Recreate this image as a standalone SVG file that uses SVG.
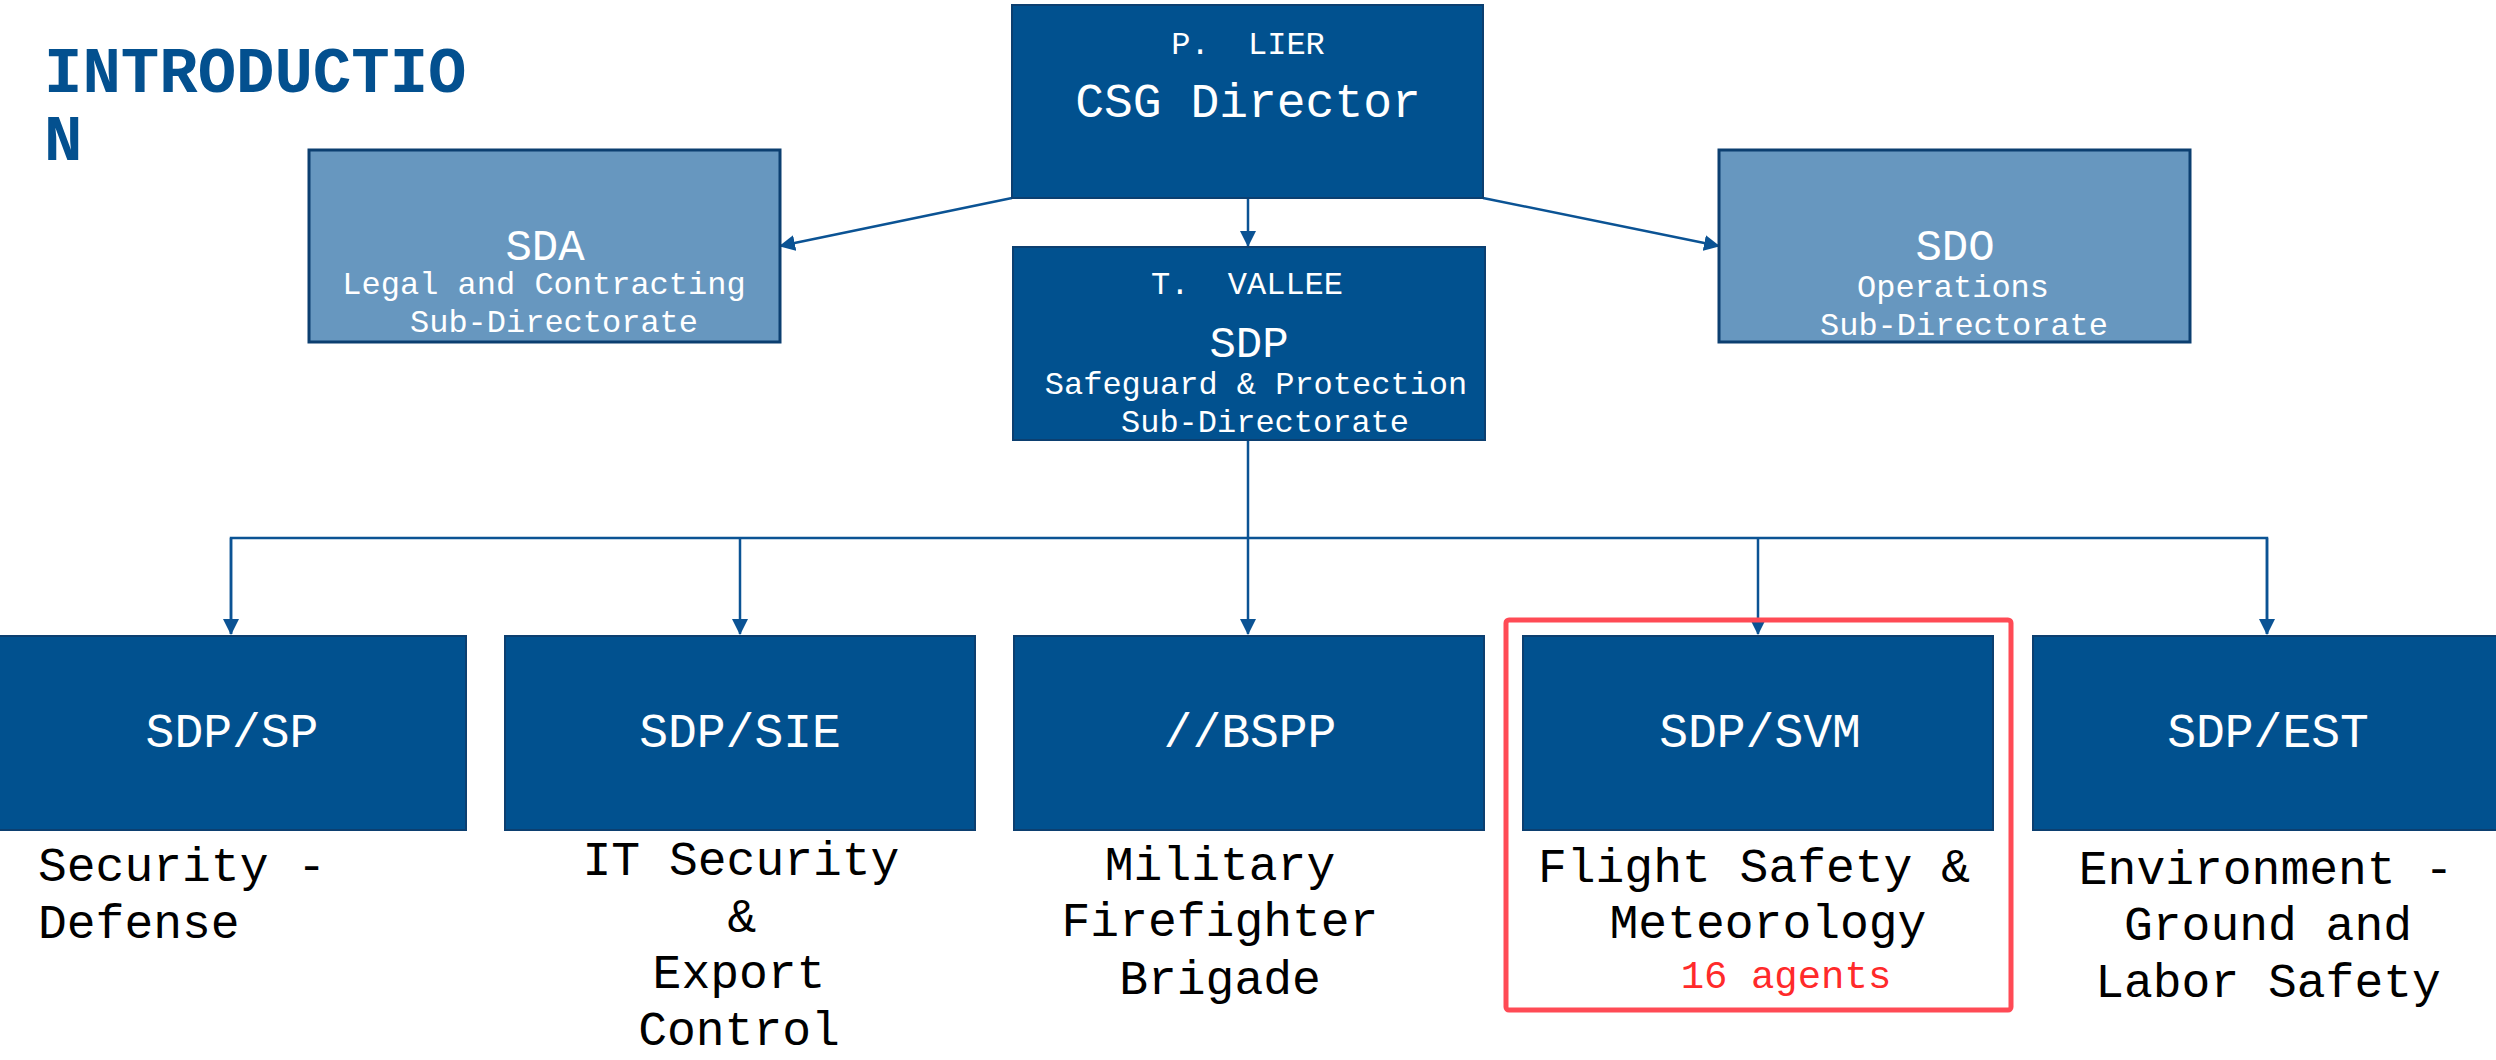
<svg xmlns="http://www.w3.org/2000/svg" width="2496" height="1060" viewBox="0 0 2496 1060">
  <style>
    text { font-family: "Liberation Mono", "Courier New", monospace; white-space: pre; }
    .dark { fill: #01518F; stroke: #0C3F70; stroke-width: 2; }
    .light { fill: #6797BF; stroke: #0C3F70; stroke-width: 3; }
    .w { fill: #FFFFFF; text-anchor: middle; }
    .lbl { fill: #000000; font-size: 48px; }
    .c { text-anchor: middle; }
    .conn { fill: none; stroke: #0B5394; stroke-width: 2.5; }
  </style>
  <defs>
    <marker id="arr" viewBox="0 0 16 16" refX="15" refY="8" markerWidth="16" markerHeight="16" markerUnits="userSpaceOnUse" orient="auto">
      <path d="M0,0 L16,8 L0,16 Z" fill="#0B5394"/>
    </marker>
  </defs>
  <rect width="2496" height="1060" fill="#FFFFFF"/>

  <g id="title">
    <text x="44" y="92" font-size="64" font-weight="bold" fill="#03508F">INTRODUCTIO</text>
    <text x="44" y="160" font-size="64" font-weight="bold" fill="#03508F">N</text>
  </g>

  <g id="connectors">
    <line class="conn" x1="1012" y1="198" x2="780" y2="246" marker-end="url(#arr)"/>
    <line class="conn" x1="1483" y1="198" x2="1719" y2="246" marker-end="url(#arr)"/>
    <line class="conn" x1="1248" y1="198" x2="1248" y2="246" marker-end="url(#arr)"/>
    <line class="conn" x1="1248" y1="440" x2="1248" y2="634" marker-end="url(#arr)"/>
    <polyline class="conn" points="231,634 231,538 2267,538 2267,634" marker-start="none"/>
    <line class="conn" x1="231" y1="538" x2="231" y2="634" marker-end="url(#arr)"/>
    <line class="conn" x1="740" y1="538" x2="740" y2="634" marker-end="url(#arr)"/>
    <line class="conn" x1="1758" y1="538" x2="1758" y2="634" marker-end="url(#arr)"/>
    <line class="conn" x1="2267" y1="538" x2="2267" y2="634" marker-end="url(#arr)"/>
  </g>

  <g id="csg">
    <rect class="dark" x="1012" y="5" width="471" height="193"/>
    <text class="w" x="1248" y="54" font-size="32">P.  LIER</text>
    <text class="w" x="1248" y="117" font-size="48">CSG Director</text>
  </g>

  <g id="sda">
    <rect class="light" x="309" y="150" width="471" height="192"/>
    <text class="w" x="545" y="260" font-size="44">SDA</text>
    <text class="w" x="544" y="294" font-size="32">Legal and Contracting</text>
    <text class="w" x="554" y="332" font-size="32">Sub-Directorate</text>
  </g>

  <g id="sdo">
    <rect class="light" x="1719" y="150" width="471" height="192"/>
    <text class="w" x="1955" y="260" font-size="44">SDO</text>
    <text class="w" x="1953" y="297" font-size="32">Operations</text>
    <text class="w" x="1964" y="335" font-size="32">Sub-Directorate</text>
  </g>

  <g id="sdp">
    <rect class="dark" x="1013" y="247" width="472" height="193"/>
    <text class="w" x="1247" y="294" font-size="32">T.  VALLEE</text>
    <text class="w" x="1249" y="357" font-size="44">SDP</text>
    <text class="w" x="1256" y="394" font-size="32">Safeguard &amp; Protection</text>
    <text class="w" x="1265" y="432" font-size="32">Sub-Directorate</text>
  </g>

  <g id="sdp-sp">
    <rect class="dark" x="-4" y="636" width="470" height="194"/>
    <text class="w" x="232" y="747" font-size="48">SDP/SP</text>
    <text class="lbl" x="38" y="881">Security -</text>
    <text class="lbl" x="38" y="938">Defense</text>
  </g>

  <g id="sdp-sie">
    <rect class="dark" x="505" y="636" width="470" height="194"/>
    <text class="w" x="740" y="747" font-size="48">SDP/SIE</text>
    <text class="lbl c" x="741" y="875">IT Security</text>
    <text class="lbl c" x="742" y="932">&amp;</text>
    <text class="lbl c" x="739" y="988">Export</text>
    <text class="lbl c" x="739" y="1045">Control</text>
  </g>

  <g id="bspp">
    <rect class="dark" x="1014" y="636" width="470" height="194"/>
    <text class="w" x="1250" y="747" font-size="48">//BSPP</text>
    <text class="lbl c" x="1220" y="880">Military</text>
    <text class="lbl c" x="1220" y="936">Firefighter</text>
    <text class="lbl c" x="1220" y="994">Brigade</text>
  </g>

  <g id="sdp-svm">
    <rect class="dark" x="1523" y="636" width="470" height="194"/>
    <text class="w" x="1760" y="747" font-size="48">SDP/SVM</text>
    <text class="lbl c" x="1754" y="882">Flight Safety &amp;</text>
    <text class="lbl c" x="1768" y="938">Meteorology</text>
    <text class="c" x="1786" y="988" font-size="39" fill="#FF2A2A">16 agents</text>
  </g>

  <g id="sdp-est">
    <rect class="dark" x="2033" y="636" width="470" height="194"/>
    <text class="w" x="2268" y="747" font-size="48">SDP/EST</text>
    <text class="lbl c" x="2266" y="884">Environment -</text>
    <text class="lbl c" x="2268" y="940">Ground and</text>
    <text class="lbl c" x="2268" y="997">Labor Safety</text>
  </g>

  <g id="highlight">
    <rect x="1506" y="620" width="505" height="390" rx="3" fill="none" stroke="#FF4A55" stroke-width="5"/>
  </g>
</svg>
